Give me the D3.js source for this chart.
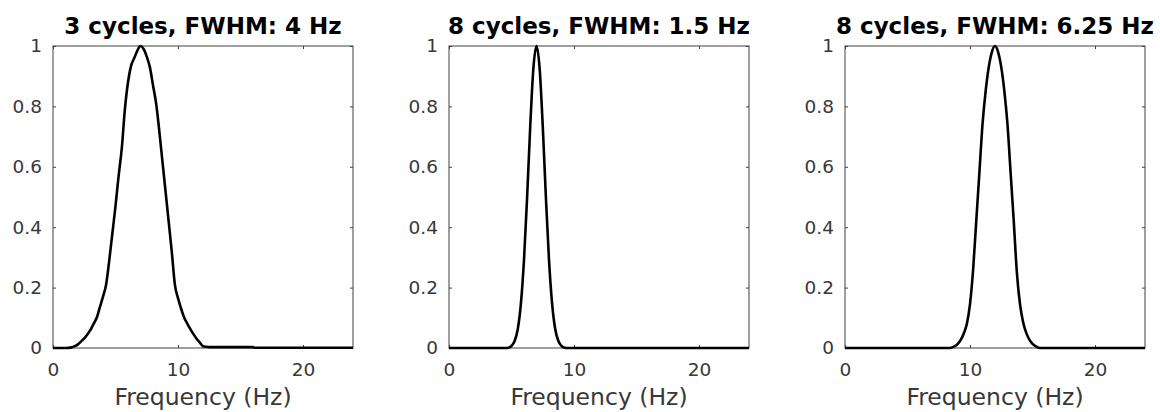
<!DOCTYPE html>
<html>
<head>
<meta charset="utf-8">
<script src="https://cdn.jsdelivr.net/npm/d3@7"></script>
<style>
  body { margin: 0; background: #fff; }
  svg { display: block; }
</style>
</head>
<body>
<script>
// spectra (frequency in Hz, normalised power)
const freqs1 = [0, 1, 1.5, 1.75, 2, 2.25, 2.5, 2.75, 3, 3.25, 3.5, 3.75, 4, 4.25, 4.5, 4.75,
  5, 5.25, 5.5, 5.75, 6, 6.25, 6.5, 6.75, 7, 7.25, 7.5, 7.75, 8, 8.25, 8.5, 8.75, 9, 9.25,
  9.5, 9.75, 10, 10.25, 10.5, 10.75, 11, 11.25, 11.5, 11.75, 12, 12.25, 12.5, 14, 16, 16.1, 20, 24];
const power1 = [0, 0, 0.002, 0.006, 0.012, 0.022, 0.032, 0.045, 0.06, 0.08, 0.1, 0.135, 0.17, 0.21, 0.29, 0.38,
  0.47, 0.57, 0.66, 0.79, 0.88, 0.935, 0.96, 0.985, 1, 0.99, 0.965, 0.93, 0.87, 0.81, 0.72, 0.62, 0.52, 0.42,
  0.32, 0.21, 0.165, 0.13, 0.1, 0.08, 0.062, 0.045, 0.03, 0.018, 0.006, 0.004, 0.003, 0.003, 0.003, 0.001, 0.001, 0.001];

const freqs2 = [0, 4.5, 4.75, 5, 5.25, 5.5, 5.75, 6, 6.25, 6.5, 6.75, 7, 7.25, 7.5, 7.75,
  8, 8.25, 8.5, 8.75, 9, 9.25, 9.5, 24];
const power2 = [0, 0, 0.001, 0.007, 0.023, 0.062, 0.146, 0.292, 0.5, 0.735, 0.926, 1, 0.926, 0.735, 0.5,
  0.292, 0.146, 0.062, 0.023, 0.007, 0.001, 0, 0];

const freqs3 = [0, 8.25, 8.5, 8.75, 9, 9.25, 9.5, 9.75, 10, 10.25, 10.5, 10.75, 11, 11.25, 11.5, 11.75,
  12, 12.25, 12.5, 12.75, 13, 13.25, 13.5, 13.75, 14, 14.25, 14.5, 14.75, 15, 15.25, 15.5, 15.75, 24];
const power3 = [0, 0, 0.001, 0.005, 0.013, 0.026, 0.048, 0.08, 0.145, 0.26, 0.42, 0.58, 0.74, 0.85, 0.93, 0.98,
  1, 0.98, 0.93, 0.85, 0.74, 0.58, 0.42, 0.25, 0.145, 0.085, 0.05, 0.028, 0.014, 0.006, 0.001, 0, 0];

const titles = ['3 cycles, FWHM: 4 Hz', '8 cycles, FWHM: 1.5 Hz', '8 cycles, FWHM: 6.25 Hz'];
const xTicks = [0, 10, 20];
const yTicks = [0, 0.2, 0.4, 0.6, 0.8, 1];
const xLabel = 'Frequency (Hz)';

const w = 1160;
const h = 412;
const panelW = 300;
const plotTop = 46;
const plotBottom = 348;
const lefts = [53, 449, 845];

const svg = d3.select('body').append('svg').attr('width', w).attr('height', h);

const series = [
  [freqs1, power1],
  [freqs2, power2],
  [freqs3, power3],
];

series.forEach((s, i) => {
  const left = lefts[i];
  const xScale = d3.scaleLinear().domain([0, 24]).range([left, left + panelW]);
  const yScale = d3.scaleLinear().domain([0, 1]).range([plotBottom, plotTop]);

  const g = svg.append('g');

  // inward ticks on all four sides, like the matlab box
  const axes = [
    { ax: d3.axisBottom(xScale).tickValues(xTicks).tickFormat(d3.format('d')), t: 'translate(0,' + plotBottom + ')', labels: true },
    { ax: d3.axisTop(xScale).tickValues(xTicks), t: 'translate(0,' + plotTop + ')', labels: false },
    { ax: d3.axisLeft(yScale).tickValues(yTicks).tickFormat((d) => String(+d.toFixed(1))), t: 'translate(' + left + ',0)', labels: true },
    { ax: d3.axisRight(yScale).tickValues(yTicks), t: 'translate(' + (left + panelW) + ',0)', labels: false },
  ];

  axes.forEach((a, k) => {
    const ag = g.append('g')
      .attr('transform', a.t)
      .call(a.ax.tickSizeInner(-3).tickSizeOuter(0).tickPadding(k === 0 ? 15 : 11));
    ag.select('.domain').remove();
    ag.selectAll('line').attr('stroke', '#404040');
    if (a.labels) {
      ag.selectAll('text')
        .attr('fill', '#383838')
        .style('font-family', 'DejaVu Sans')
        .style('font-size', '18.5px');
    } else {
      ag.selectAll('text').remove();
    }
  });

  g.append('rect')
    .attr('x', left)
    .attr('y', plotTop)
    .attr('width', panelW)
    .attr('height', plotBottom - plotTop)
    .attr('fill', 'none')
    .attr('stroke', '#404040')
    .attr('stroke-width', 1);

  const line = d3.line()
    .x((d) => xScale(d[0]))
    .y((d) => yScale(d[1]))
    .curve(d3.curveMonotoneX);

  g.append('path')
    .datum(d3.zip(s[0], s[1]))
    .attr('d', line)
    .attr('fill', 'none')
    .attr('stroke', '#000')
    .attr('stroke-width', 2.6)
    .attr('stroke-linejoin', 'round');

  g.append('text')
    .attr('x', left + panelW / 2)
    .attr('y', 34)
    .attr('text-anchor', 'middle')
    .style('font-family', 'DejaVu Sans')
    .style('font-weight', 'bold')
    .style('font-size', '23px')
    .attr('fill', '#000')
    .text(titles[i]);

  g.append('text')
    .attr('x', left + panelW / 2)
    .attr('y', 405)
    .attr('text-anchor', 'middle')
    .style('font-family', 'DejaVu Sans')
    .style('font-size', '23.5px')
    .attr('fill', '#383838')
    .text(xLabel);
});
</script>
</body>
</html>
